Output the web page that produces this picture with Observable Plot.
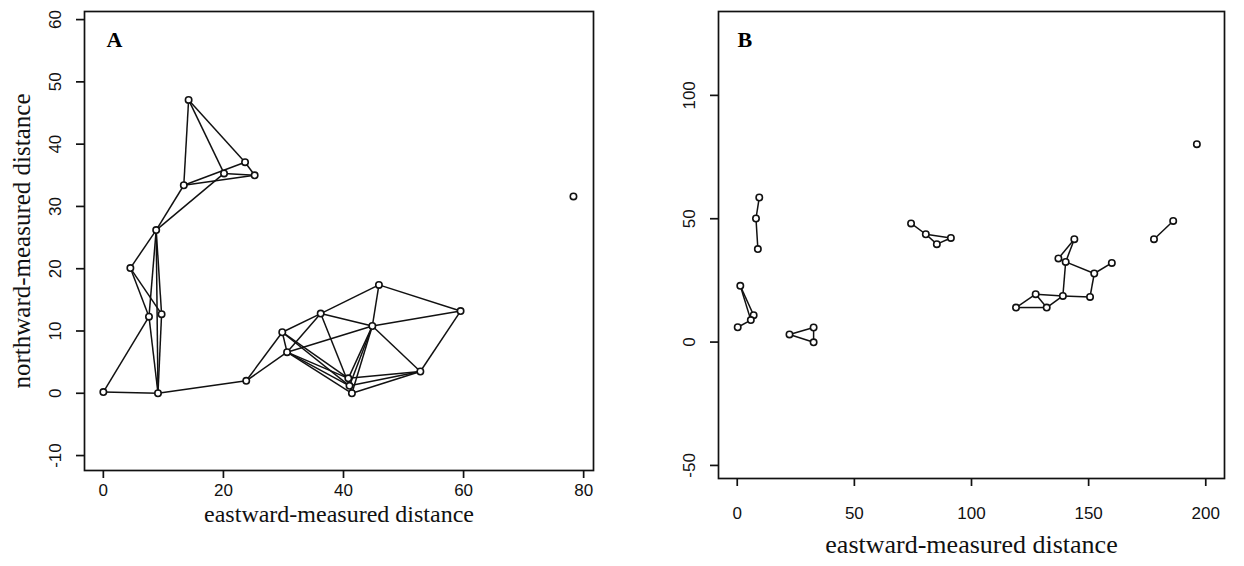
<!DOCTYPE html>
<html><head><meta charset="utf-8">
<script src="https://cdn.jsdelivr.net/npm/d3@7"></script>
<script src="https://cdn.jsdelivr.net/npm/@observablehq/plot@0.6"></script>
<style>
body{margin:0;background:#fff;}
#wrap{position:relative;width:1244px;height:566px;overflow:hidden;background:#fff;}
#a,#b{position:absolute;top:0;}
#a{left:0px}
#b{left:622px}
</style></head><body>
<div id="wrap"><div id="a"></div><div id="b"></div></div>
<script>
// Panel A: node coordinates
const aX = [0, 9.1, 23.8, 7.6, 9.7, 4.5, 8.8, 13.4, 20.1, 23.6, 25.2, 14.2, 29.8, 30.6, 36.2, 45.9, 44.8, 59.5, 52.8, 40.8, 41.0, 41.4, 78.3];
const aY = [0.2, 0, 2.0, 12.3, 12.7, 20.1, 26.2, 33.4, 35.3, 37.1, 35.0, 47.1, 9.8, 6.6, 12.8, 17.4, 10.8, 13.2, 3.5, 2.4, 1.2, 0.0, 31.6];
const aEdges = [[0,1],[0,3],[1,3],[1,4],[1,6],[1,2],[3,6],[4,6],[5,6],[5,3],[5,4],
  [6,7],[6,8],[7,11],[8,11],[9,11],[7,9],[7,10],[8,10],[9,10],
  [2,12],[2,13],[12,13],[12,14],[13,14],[12,19],[12,20],[13,19],[13,20],[13,21],
  [13,16],[16,17],[14,16],[16,18],[15,17],[17,18],[14,15],[15,16],[14,20],
  [16,19],[16,20],[16,21],[18,19],[18,20],[18,21],[19,21],[20,21]];
const aXTicks = [0, 20, 40, 60, 80];
const aYTicks = [-10, 0, 10, 20, 30, 40, 50, 60];

// Panel B: node coordinates
const bX = [9.4, 8.0, 8.8, 1.3, 7.0, 5.8, 0.2, 22.3, 32.6, 32.6, 74.2, 80.5, 85.2, 91.2, 143.9, 137.1, 140.2, 159.9, 152.4, 150.6, 139.0, 127.4, 119.0, 132.1, 186.1, 177.9, 196.2];
const bY = [58.6, 50.1, 37.7, 22.8, 10.9, 8.9, 6.0, 3.1, 5.9, -0.1, 48.1, 43.7, 39.7, 42.2, 41.7, 33.9, 32.5, 32.1, 27.8, 18.3, 18.7, 19.4, 14.0, 14.0, 49.1, 41.7, 80.2];
const bEdges = [[0,1],[1,2],[3,4],[3,5],[4,5],[5,6],[7,8],[7,9],[8,9],[10,11],[11,12],[11,13],[12,13],
  [14,15],[14,16],[15,16],[16,18],[17,18],[16,20],[18,19],[19,20],[20,21],[21,22],[21,23],[22,23],[20,23],[24,25]];
const bXTicks = [0, 50, 100, 150, 200];
const bYTicks = [-50, 0, 50, 100];

const xTitle = "eastward-measured distance";
const yTitle = "northward-measured distance";

function panel(xs, ys, edges, opts) {
  const nodes = xs.map((x, i) => ({x, y: ys[i]}));
  const links = edges.map(([i, j]) => ({x1: xs[i], y1: ys[i], x2: xs[j], y2: ys[j]}));
  const marks = [
    Plot.link(links, {x1: "x1", y1: "y1", x2: "x2", y2: "y2", stroke: "#111", strokeWidth: 1.5}),
    Plot.dot(nodes, {x: "x", y: "y", r: 3.2, fill: "white", stroke: "#111", strokeWidth: 1.6}),
    Plot.frame({stroke: "#111", strokeWidth: 1.7}),
    Plot.axisX({ticks: opts.xTicks, tickSize: 8, tickPadding: opts.xPad, fontSize: opts.tickFont, fontFamily: "Liberation Sans, Arial, sans-serif", tickFormat: d => String(d), label: null, strokeWidth: 1.7}),
    Plot.axisY({ticks: opts.yTicks, tickSize: 8, tickPadding: opts.yPad, tickRotate: -90, fontSize: opts.tickFont, fontFamily: "Liberation Sans, Arial, sans-serif", tickFormat: d => String(d), label: null, strokeWidth: 1.7}),
    Plot.text([opts.panelLabel], {frameAnchor: "top-left", dx: opts.lblDx, dy: opts.lblDy, fontSize: 22, fontWeight: "bold", fontFamily: "Liberation Serif, Times New Roman, serif", fill: "#000"}),
    Plot.text([xTitle], {frameAnchor: "bottom", textAnchor: "middle", dy: opts.xTitleDy, fontSize: opts.titleFont, fontFamily: "Liberation Serif, Times New Roman, serif", fill: "#111"})
  ];
  if (opts.yTitle) {
    marks.push(Plot.text([opts.yTitle], {frameAnchor: "left", textAnchor: "middle", dx: opts.yTitleDx, rotate: -90, fontSize: opts.yTitleFont, fontFamily: "Liberation Serif, Times New Roman, serif", fill: "#111"}));
  }
  return Plot.plot({
    width: opts.width, height: 566,
    marginLeft: opts.ml, marginRight: opts.mr, marginTop: opts.mt, marginBottom: opts.mb,
    x: {domain: opts.xDomain},
    y: {domain: opts.yDomain},
    style: {background: "transparent", overflow: "visible", color: "#111"},
    marks
  });
}

document.getElementById("a").append(panel(aX, aY, aEdges, {
  width: 620, ml: 84, mr: 27, mt: 11, mb: 566 - 470,
  xDomain: [-3.14, 81.64], yDomain: [-12.4, 61.3],
  xTicks: aXTicks, yTicks: aYTicks, xPad: 5, yPad: 16, tickFont: 17, titleFont: 24,
  panelLabel: "A", lblDx: 22, lblDy: 20, xTitleDy: 51, yTitle: yTitle, yTitleFont: 25, yTitleDx: -63
}));
document.getElementById("b").append(panel(bX, bY, bEdges, {
  width: 622, ml: 96, mr: 20, mt: 11, mb: 566 - 478,
  xDomain: [-8, 208], yDomain: [-55.3, 134],
  xTicks: bXTicks, yTicks: bYTicks, xPad: 20, yPad: 16, tickFont: 17, titleFont: 26,
  panelLabel: "B", lblDx: 19, lblDy: 20, xTitleDy: 74, yTitle: null
}));
</script>
</body></html>
